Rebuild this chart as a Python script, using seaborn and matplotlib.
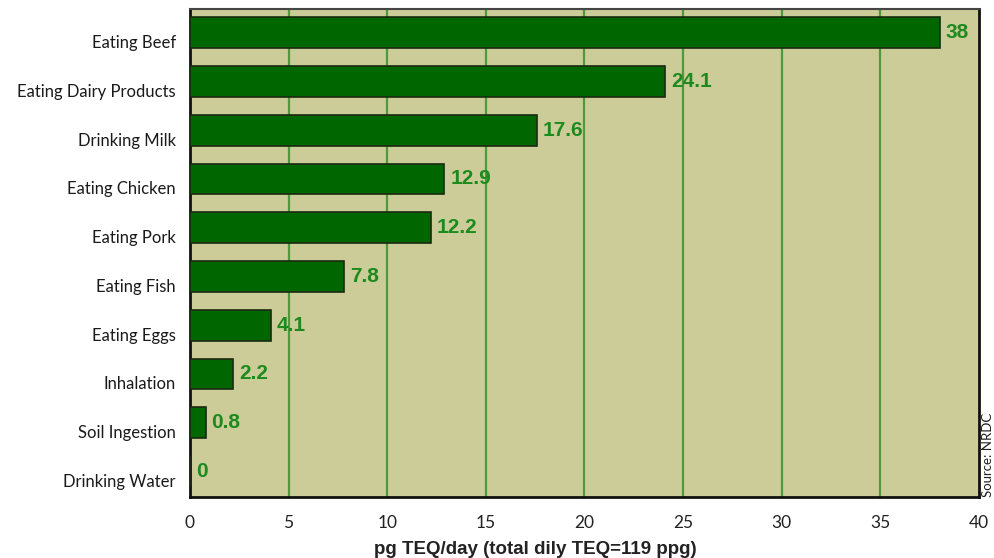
import matplotlib
matplotlib.use("Agg")
import matplotlib.pyplot as plt
import matplotlib.transforms as mtransforms
import seaborn as sns
import pandas as pd

categories = ["Eating Beef", "Eating Dairy Products", "Drinking Milk", "Eating Chicken",
              "Eating Pork", "Eating Fish", "Eating Eggs", "Inhalation",
              "Soil Ingestion", "Drinking Water"]
values = [38, 24.1, 17.6, 12.9, 12.2, 7.8, 4.1, 2.2, 0.8, 0]
value_labels = ["38", "24.1", "17.6", "12.9", "12.2", "7.8", "4.1", "2.2", "0.8", "0"]
xticks = [0, 5, 10, 15, 20, 25, 30, 35, 40]

sns.set_theme(style="white")
plt.rcParams['font.family'] = ['Lato', 'DejaVu Sans']

df = pd.DataFrame({"cat": categories, "val": values})

fig = plt.figure(figsize=(9.94, 5.58), dpi=100)
ax = fig.add_axes([0.191, 0.109, 0.794, 0.875])
ax.set_facecolor("#cccc99")

sns.barplot(data=df, x="val", y="cat", orient="h", color="#006600",
            saturation=1, width=0.63, edgecolor="#1a2a10", linewidth=1.2,
            ax=ax, zorder=3)

for xt in xticks[1:-1]:
    ax.axvline(xt, color="#4f9a3c", linewidth=1.6, zorder=1)

for i, (v, lab) in enumerate(zip(values, value_labels)):
    ax.text(v + 0.3, i, lab, va="center", ha="left", color="#1e8a1e",
            fontsize=15, fontweight="bold", family=["Liberation Sans", "DejaVu Sans"], zorder=4)

ax.set_xlim(0, 40)
ax.set_ylim(9.53, -0.49)
ax.set_xticks(xticks)
ax.set_xticklabels([str(t) for t in xticks], fontsize=12.5, color="#222222")
ax.tick_params(axis="x", length=0, pad=13)
ax.tick_params(axis="y", length=0, pad=10, labelsize=12, labelcolor="#1a1a1a")
offset = mtransforms.ScaledTranslation(0, -9 / 100, fig.dpi_scale_trans)
for lbl in ax.get_yticklabels():
    lbl.set_transform(lbl.get_transform() + offset)
ax.set_ylabel("")
ax.set_xlabel("")
fig.text(535 / 994, 1 - 549 / 558, "pg TEQ/day (total dily TEQ=119 ppg)", fontsize=13.5,
         fontweight="bold", family=["Liberation Sans", "DejaVu Sans"], color="#222222",
         ha="center", va="center")

for side in ["left", "bottom", "right"]:
    ax.spines[side].set_visible(True)
    ax.spines[side].set_color("#111111")
    ax.spines[side].set_linewidth(2)
ax.spines["top"].set_visible(True)
ax.spines["top"].set_color("#444444")
ax.spines["top"].set_linewidth(1.5)

fig.text(982 / 994, 1 - 497 / 558, "Source: NRDC", rotation=90, ha="left", va="bottom",
         fontsize=9.5, color="#222222")

fig.savefig("out.png", dpi=100, facecolor="white")
